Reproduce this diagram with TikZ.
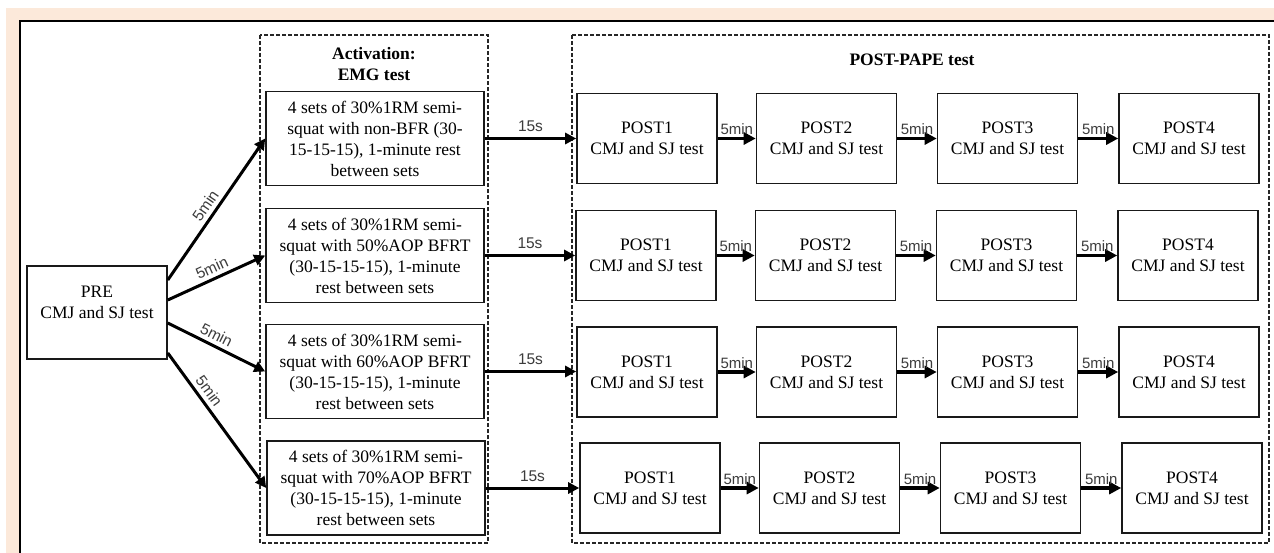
\documentclass[tikz,border=0pt]{standalone}
\usepackage{fontspec}
\setmainfont{Liberation Serif}
\newfontfamily\labfont{Liberation Sans}
\usetikzlibrary{arrows.meta}
\definecolor{peach}{RGB}{252,233,218}
\definecolor{labgray}{RGB}{60,60,60}
\begin{document}
\begin{tikzpicture}[x=1pt,y=-1pt,
  box/.style={draw=black!90, line width=1.6pt, align=center, inner sep=0pt, font=\fontsize{17.5}{21}\selectfont},
  prebox/.style={box, minimum width=140pt, minimum height=93pt},
  actbox/.style={box, minimum width=218pt, minimum height=94pt},
  postbox/.style={box, minimum width=140pt, minimum height=90pt},
  group/.style={draw=black!85, line width=1.5pt, dash pattern=on 4pt off 2pt},
  title/.style={font=\fontsize{17.5}{21}\selectfont\bfseries, align=center},
  arr/.style={line width=3pt, -{Triangle[length=11pt,width=11pt]}},
  parr/.style={line width=3.5pt, -{Triangle[length=12pt,width=12pt]}},
  lab/.style={font=\labfont\fontsize{15.5}{18}\selectfont, text=labgray, inner sep=1pt},
  plab/.style={font=\labfont\fontsize{15}{18}\selectfont, text=labgray, inner sep=0.5pt},
]
\useasboundingbox (0,0) rectangle (1274,553);
\fill[peach] (6,8) rectangle (1274,553);
\fill[white] (20,21) rectangle (1274,553);
\draw[line width=2.5pt] (20,553) -- (20,21) -- (1274,21);

% groups
\draw[group] (260,35) rectangle (488,543);
\draw[group] (572,35) rectangle (1269,543);
\node[title] (acttitle) at (374,64) {Activation:\\EMG test};
\node[title] (posttitle) at (912,60) {POST-PAPE test};

% PRE
\node[prebox] (pre) at (97,312.5) {PRE\\CMJ and SJ test\\\mbox{}};

% activation boxes
\node[actbox] (act1) at (375,138.5) {4 sets of 30\%1RM semi-\\squat with non-BFR (30-\\15-15-15), 1-minute rest\\between sets};
\node[actbox] (act2) at (375,255.5) {4 sets of 30\%1RM semi-\\squat with 50\%AOP BFRT\\(30-15-15-15), 1-minute\\rest between sets};
\node[actbox] (act3) at (375,371.5) {4 sets of 30\%1RM semi-\\squat with 60\%AOP BFRT\\(30-15-15-15), 1-minute\\rest between sets};
\node[actbox] (act4) at (376,488) {4 sets of 30\%1RM semi-\\squat with 70\%AOP BFRT\\(30-15-15-15), 1-minute\\rest between sets};

% PRE -> activation
\draw[arr] ([yshift=32.5pt]pre.east) -- node[lab, sloped, above=3pt, pos=0.48] {5min} (act1.west);
\draw[arr] ([yshift=12.5pt]pre.east) -- node[lab, sloped, above=3pt, pos=0.5] {5min} (act2.west);
\draw[arr] ([yshift=-10.5pt]pre.east) -- node[lab, sloped, above=3pt, pos=0.45] {5min} (act3.west);
\draw[arr] ([yshift=-40.5pt]pre.east) -- node[lab, sloped, above=3pt, pos=0.33] {5min} (act4.west);

% POST rows
\foreach \r/\y/\d in {1/138.5/0,2/255.5/-1,3/372/0,4/488/3} {
  \foreach \c/\x in {1/647,2/826.5,3/1007.5,4/1189} {
    \node[postbox] (p\r\c) at (\x+\d,\y) {POST\c\\CMJ and SJ test};
  }
  \foreach \a/\b in {1/2,2/3,3/4} {
    \draw[parr] (p\r\a) -- node[plab, above=1.5pt] {5min} (p\r\b);
  }
  \draw[arr] (act\r.east) -- node[lab, above=4pt] {15s} (act\r.east -| p\r1.west);
}
\end{tikzpicture}
\end{document}
